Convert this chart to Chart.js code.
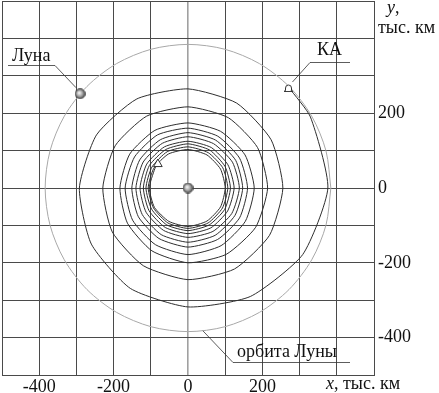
<!DOCTYPE html>
<html>
<head>
<meta charset="utf-8">
<script src="https://cdn.jsdelivr.net/npm/chart.js@4.4.1/dist/chart.umd.min.js"></script>
<style>
  html, body { margin: 0; padding: 0; background: #fff; }
  #wrap { width: 439px; height: 393px; }
</style>
</head>
<body>
<div id="wrap"><canvas id="orbitChart" width="439" height="393"></canvas></div>
<script>
// angles (deg) at which every turn of the spiral was read, each turn starts at 150°
const turnAngles = [150, 180, 210, 240, 270, 300, 330, 0, 30, 60, 90, 120];
// distance from Earth, thousand km, one row per turn
const spiralTurns = [
    [103, 104, 104, 103, 103, 102, 101, 100, 101, 102, 103, 105],
    [106, 107, 107, 108, 108, 108, 107, 107, 108, 109, 110, 112],
    [112, 113, 113, 114, 114, 114, 114, 114, 115, 117, 118, 119],
    [120, 120, 121, 122, 122, 123, 123, 124, 124, 125, 125, 127],
    [128, 129, 130, 131, 132, 134, 136, 138, 138, 137, 137, 138],
    [139, 140, 142, 144, 145, 146, 146, 147, 148, 148, 148, 149],
    [150, 151, 154, 156, 158, 159, 160, 160, 160, 160, 160, 164],
    [166, 169, 172, 175, 178, 178, 178, 178, 177, 175, 174, 178],
    [181, 183, 188, 194, 200, 205, 210, 214, 216, 217, 217, 222],
    [226, 229, 235, 240, 245, 250, 253, 255, 258, 262, 265, 275],
    [284, 292, 300, 310, 318, 335, 356, 376, 380]
];
const craftStart = { x: -81, y: 64 };
const craftEnd = { x: 270, y: 270 };

const moonAngles = [0, 15, 30, 45, 60, 75, 90, 105, 120, 135, 150, 165, 180,
    195, 210, 225, 240, 255, 270, 285, 300, 315, 330, 345, 360];
const moonOrbitR = 384;
const moonPos = { x: -290, y: 252 };
const earthPos = { x: 0, y: 0 };

const xLabels = [-400, -200, 0, 200];
const yLabels = [-400, -200, 0, 200];

const rad = a => a * Math.PI / 180;
const polar = (a, r) => ({ x: r * Math.cos(rad(a)), y: r * Math.sin(rad(a)) });

const trajectory = [craftStart];
spiralTurns.forEach(turn => turn.forEach((r, i) => trajectory.push(polar(turnAngles[i], r))));
trajectory.push(craftEnd);

const moonOrbit = moonAngles.map(a => polar(a, moonOrbitR));

function sphere(size) {
    const c = document.createElement('canvas');
    c.width = c.height = size;
    const g = c.getContext('2d');
    const h = size / 2;
    const grad = g.createRadialGradient(h - 1, h - 1, 0.5, h, h, h);
    grad.addColorStop(0, '#f4f4f4');
    grad.addColorStop(0.55, '#9a9a9a');
    grad.addColorStop(1, '#333');
    g.fillStyle = grad;
    g.beginPath(); g.arc(h, h, h - 0.5, 0, Math.PI * 2); g.fill();
    g.strokeStyle = '#444'; g.lineWidth = 0.8; g.stroke();
    return c;
}

function dome() {
    const c = document.createElement('canvas');
    c.width = 11; c.height = 10;
    const g = c.getContext('2d');
    g.fillStyle = '#fff';
    g.strokeStyle = '#333';
    g.lineWidth = 1;
    g.beginPath();
    g.moveTo(1.5, 8.5);
    g.lineTo(2.5, 8.5);
    g.arc(5.5, 6, 3, Math.PI, 0);
    g.lineTo(8.5, 8.5);
    g.lineTo(9.5, 8.5);
    g.fill(); g.stroke();
    g.beginPath(); g.moveTo(1, 9.5); g.lineTo(10, 9.5); g.stroke();
    return c;
}

const serif = '"Liberation Serif", "DejaVu Serif", serif';

// keep the plot square: no extra room for tick label overhang
function fixBox(s, w, h) {
    if (w) s.width = w;
    if (h) s.height = h;
    s.paddingTop = s.paddingBottom = s.paddingLeft = s.paddingRight = 0;
}

const notes = {
    id: 'notes',
    afterDraw(chart) {
        const { ctx, scales: { x, y } } = chart;
        const px = p => [x.getPixelForValue(p.x), y.getPixelForValue(p.y)];
        ctx.save();
        ctx.fillStyle = '#111';
        ctx.strokeStyle = '#333';
        ctx.lineWidth = 0.8;
        ctx.font = '18px ' + serif;
        ctx.textBaseline = 'alphabetic';

        // Луна
        const [mx, my] = px(moonPos);
        ctx.fillText('Луна', 12, 61);
        ctx.beginPath();
        ctx.moveTo(8, 65.5); ctx.lineTo(55, 65.5); ctx.lineTo(mx - 4, my - 6);
        ctx.stroke();

        // КА
        const [kx, ky] = px(craftEnd);
        ctx.fillText('КА', 317, 55);
        ctx.beginPath();
        ctx.moveTo(350, 62.5); ctx.lineTo(310, 62.5); ctx.lineTo(kx + 4, ky - 5);
        ctx.stroke();

        // орбита Луны
        const [ox, oy] = px(polar(-84, moonOrbitR));
        ctx.fillText('орбита Луны', 237, 357);
        ctx.beginPath();
        ctx.moveTo(350, 362.5); ctx.lineTo(233, 362.5); ctx.lineTo(ox, oy);
        ctx.stroke();

        // axis titles
        ctx.font = 'italic 18px ' + serif;
        ctx.fillText('y', 387, 13);
        ctx.fillText('x', 326, 389);
        const xw = ctx.measureText('x').width;
        const yw = ctx.measureText('y').width;
        ctx.font = '18px ' + serif;
        ctx.fillText(',', 387 + yw, 13);
        ctx.fillText('тыс. км', 378, 33);
        ctx.fillText(', тыс. км', 326 + xw, 389);
        ctx.restore();
    }
};

new Chart(document.getElementById('orbitChart'), {
    type: 'scatter',
    data: {
        datasets: [
            { data: [earthPos], pointStyle: sphere(11), pointRadius: 5, showLine: false },
            { data: [moonPos], pointStyle: sphere(11), pointRadius: 5, showLine: false },
            { data: [craftEnd], pointStyle: dome(), pointRadius: 5, showLine: false },
            { data: [craftStart], pointStyle: 'triangle', pointRadius: 5, pointBackgroundColor: '#fff',
              pointBorderColor: '#333', pointBorderWidth: 1, showLine: false },
            { data: trajectory, showLine: true, borderColor: '#2e2e2e', borderWidth: 1,
              pointRadius: 0, tension: 0.2 },
            { data: moonOrbit, showLine: true, borderColor: '#a8a8a8', borderWidth: 1,
              pointRadius: 0, tension: 0.3 }
        ]
    },
    options: {
        responsive: false,
        animation: false,
        layout: { autoPadding: false, padding: { left: 2, top: 1, right: 0, bottom: 0 } },
        plugins: { legend: { display: false }, tooltip: { enabled: false } },
        scales: {
            x: {
                min: -500, max: 500,
                afterFit: s => fixBox(s, 0, 18),
                grid: {
                    drawTicks: false,
                    color: c => c.tick && c.tick.value === 0 ? '#a0a0a0' : '#4a4a4a',
                    lineWidth: c => c.tick && c.tick.value === 0 ? 1.6 : 1
                },
                border: { display: true, color: '#4a4a4a' },
                ticks: {
                    stepSize: 100, autoSkip: false, maxRotation: 0, padding: 1,
                    color: '#111', font: { family: serif, size: 18 },
                    callback: v => xLabels.includes(v) ? String(v) : ''
                }
            },
            y: {
                position: 'right',
                min: -500, max: 500,
                afterFit: s => fixBox(s, 65, 0),
                grid: { drawTicks: false, color: '#4a4a4a', lineWidth: 1 },
                border: { display: true, color: '#4a4a4a' },
                ticks: {
                    stepSize: 100, autoSkip: false, padding: 4,
                    color: '#111', font: { family: serif, size: 18 },
                    callback: v => yLabels.includes(v) ? String(v) : ''
                }
            }
        }
    },
    plugins: [notes]
});
</script>
</body>
</html>
